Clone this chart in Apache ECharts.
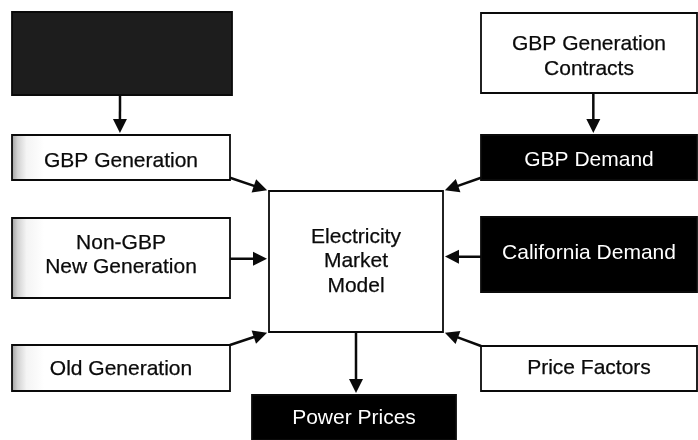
<!DOCTYPE html>
<html><head><meta charset="utf-8">
<script src="https://cdn.jsdelivr.net/npm/echarts@6/dist/echarts.min.js"></script>
<style>html,body{margin:0;padding:0;background:#fff}#c{width:698px;height:440px}</style>
</head><body><div id="c"></div>
<script>
// ---- data ----
const nodeLabels = ['', 'GBP Generation', 'Non-GBP\nNew Generation', 'Old Generation',
  'GBP Generation\nContracts', 'GBP Demand', 'California Demand', 'Price Factors',
  'Electricity\nMarket\nModel', 'Power Prices'];
const nodeKinds = ['noise', 'shaded', 'shaded', 'shaded', 'white', 'black', 'black', 'white', 'white', 'black'];
const edgeFrom = [0, 1, 2, 3, 4, 5, 6, 7, 8];
const edgeTo   = [1, 8, 8, 8, 5, 8, 8, 8, 9];

// ---- layout (diagram coordinates) ----
const boxes = [
  [12, 12, 232, 95], [12, 135, 230, 180], [12, 218, 230, 298], [12, 345, 230, 391],
  [481, 13, 697, 93], [481, 135, 697, 180], [481, 217, 697, 292], [481, 346, 697, 391],
  [269, 191, 443, 332], [252, 395, 456, 440]
];
const textDy = [0, 4, -3, 1, 3.5, 2.5, -1, 0, 0, 0.5];
// anchors as fractions of the box [fx, fy]
const fromAnchor = [[0.491, 1], [1, 0.95], [1, 0.51], [1, 0], [0.52, 1], [0, 0.95], [0, 0.53], [0, 0], [0.5, 1]];
const toAnchor   = [[0.495, 0], [0, 0], [0, 0.48], [0, 1], [0.52, 0], [1, 0], [1, 0.465], [1, 1], [0.51, 0]];

const fills = {
  noise: '#1d1d1d',
  black: '#000',
  white: '#fff',
  shaded: {type: 'linear', x: 0, y: 0, x2: 1, y2: 0, colorStops: [
    {offset: 0, color: '#9a9a9a'}, {offset: 0.03, color: '#d2d2d2'},
    {offset: 0.07, color: '#f4f4f4'}, {offset: 0.15, color: '#fff'}, {offset: 1, color: '#fff'}]}
};

function anchorPt(bi, a) {
  const b = boxes[bi];
  return [b[0] + (b[2] - b[0]) * a[0], b[1] + (b[3] - b[1]) * a[1]];
}

const chart = echarts.init(document.getElementById('c'), null, {renderer: 'canvas'});
chart.setOption({
  animation: false,
  grid: {left: 0, right: 0, top: 0, bottom: 0},
  xAxis: {type: 'value', min: 0, max: 698, show: false},
  yAxis: {type: 'value', min: 0, max: 440, inverse: true, show: false},
  series: [
    {
      type: 'custom',
      coordinateSystem: 'cartesian2d',
      data: nodeLabels.map((_, i) => [i]),
      renderItem: function (params, api) {
        const i = api.value(0);
        const b = boxes[i];
        const p0 = api.coord([b[0], b[1]]);
        const p1 = api.coord([b[2], b[3]]);
        const x = Math.min(p0[0], p1[0]), y = Math.min(p0[1], p1[1]);
        const w = Math.abs(p1[0] - p0[0]), h = Math.abs(p1[1] - p0[1]);
        const kind = nodeKinds[i];
        const dark = kind === 'black' || kind === 'noise';
        const col = dark ? '#fff' : '#0a0a0a';
        return {
          type: 'group',
          children: [
            {type: 'rect', shape: {x: x, y: y, width: w, height: h},
             style: {fill: fills[kind], stroke: '#0a0a0a', lineWidth: 1.8}},
            {type: 'text', z2: 10,
             style: {text: nodeLabels[i], x: x + w / 2, y: y + h / 2 + textDy[i],
               align: 'center', verticalAlign: 'middle',
               font: '21px "Liberation Sans", Arial, sans-serif', lineHeight: 24.5,
               fill: col, stroke: dark ? null : col, lineWidth: dark ? 0 : 0.25}}
          ]
        };
      }
    },
    {
      type: 'custom',
      coordinateSystem: 'cartesian2d',
      data: edgeFrom.map((_, i) => [i]),
      renderItem: function (params, api) {
        const i = api.value(0);
        const s = api.coord(anchorPt(edgeFrom[i], fromAnchor[i]));
        const t0 = api.coord(anchorPt(edgeTo[i], toAnchor[i]));
        let dx = t0[0] - s[0], dy = t0[1] - s[1];
        const len = Math.sqrt(dx * dx + dy * dy);
        dx /= len; dy /= len;
        const gap = 2, head = 14, half = 7;
        const tip = [t0[0] - dx * gap, t0[1] - dy * gap];
        const base = [tip[0] - dx * head, tip[1] - dy * head];
        const nx = -dy, ny = dx;
        return {
          type: 'group',
          children: [
            {type: 'line', shape: {x1: s[0], y1: s[1], x2: base[0] + dx, y2: base[1] + dy},
             style: {stroke: '#0a0a0a', lineWidth: 2.5}},
            {type: 'polygon', shape: {points: [tip, [base[0] + nx * half, base[1] + ny * half], [base[0] - nx * half, base[1] - ny * half]]},
             style: {fill: '#0a0a0a'}}
          ]
        };
      }
    }
  ]
});
</script></body></html>
